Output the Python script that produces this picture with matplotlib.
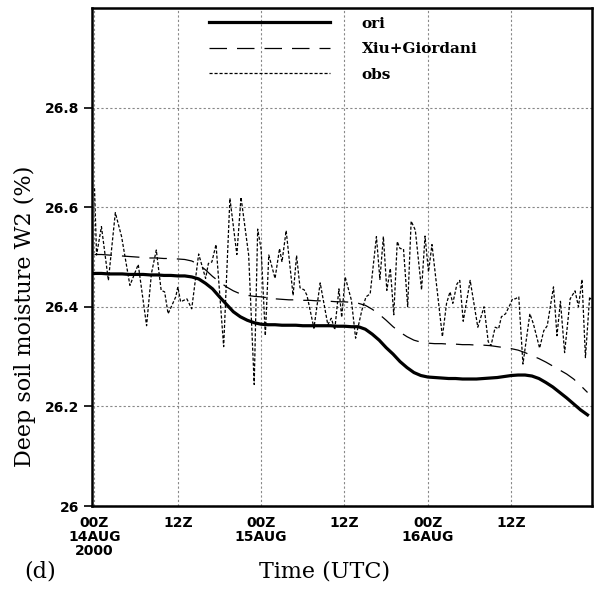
import matplotlib
matplotlib.use("Agg")
import matplotlib.pyplot as plt
import numpy as np

# hourly model output, 00Z 14AUG 2000 onwards
hours = np.arange(72)
ori = [26.467, 26.467, 26.466, 26.466, 26.466, 26.465, 26.465, 26.465, 26.464, 26.464,
       26.463, 26.463, 26.462, 26.462, 26.460, 26.456, 26.447, 26.436, 26.420, 26.405,
       26.390, 26.380, 26.373, 26.368, 26.365, 26.364, 26.364, 26.363, 26.363, 26.363,
       26.362, 26.362, 26.362, 26.362, 26.362, 26.361, 26.361, 26.360, 26.360, 26.355,
       26.345, 26.333, 26.318, 26.305, 26.290, 26.278, 26.268, 26.262, 26.259, 26.258,
       26.257, 26.256, 26.256, 26.255, 26.255, 26.255, 26.256, 26.257, 26.258, 26.260,
       26.262, 26.263, 26.263, 26.261, 26.256, 26.248, 26.239, 26.228, 26.217, 26.205,
       26.193, 26.183]
xiu = [26.505, 26.505, 26.504, 26.503, 26.502, 26.501, 26.500, 26.499, 26.498, 26.498,
       26.497, 26.497, 26.496, 26.495, 26.492, 26.485, 26.474, 26.461, 26.450, 26.440,
       26.432, 26.426, 26.423, 26.421, 26.420, 26.418, 26.416, 26.415, 26.414, 26.414,
       26.413, 26.413, 26.412, 26.412, 26.411, 26.410, 26.410, 26.409, 26.407, 26.403,
       26.395, 26.385, 26.373, 26.360, 26.349, 26.340, 26.333, 26.329, 26.327, 26.326,
       26.326, 26.325, 26.325, 26.324, 26.324, 26.323, 26.323, 26.322, 26.320, 26.318,
       26.316, 26.313, 26.308, 26.302, 26.296, 26.289, 26.281, 26.273, 26.265, 26.255,
       26.242, 26.228]

# observations (irregular sampling)
obs_t = [0.0, 0.3, 1.0, 2.0, 3.0, 3.9, 5.1, 6.3, 7.5, 8.2, 8.9, 9.6, 10.1, 10.6, 11.7,
         12.0, 12.4, 13.3, 14.0, 15.0, 16.0, 16.4, 16.9, 17.5, 18.6, 19.5, 20.5, 21.1,
         22.2, 23.0, 23.5, 24.0, 24.6, 25.1, 26.0, 26.65, 27.0, 27.6, 28.6, 29.1, 29.6,
         30.2, 30.6, 31.6, 32.5, 33.6, 34.1, 34.6, 35.2, 35.6, 36.1, 37.0, 37.6, 38.5,
         39.1, 39.7, 40.6, 41.1, 41.6, 42.1, 42.6, 43.1, 43.6, 44.0, 44.5, 45.1, 45.6,
         46.2, 47.1, 47.6, 48.1, 48.6, 50.1, 50.7, 51.2, 51.6, 52.2, 52.6, 53.1, 54.1,
         55.2, 56.1, 56.7, 57.1, 57.7, 58.2, 58.6, 59.2, 59.9, 60.2, 60.6, 61.1, 61.7,
         62.7, 63.2, 64.1, 64.7, 65.2, 66.1, 66.6, 67.1, 67.7, 68.5, 69.2, 69.7, 70.2,
         70.7, 71.3, 71.5]
obs = [26.638, 26.504, 26.561, 26.453, 26.589, 26.541, 26.443, 26.485, 26.362, 26.467,
       26.514, 26.433, 26.430, 26.386, 26.420, 26.440, 26.410, 26.416, 26.396, 26.506,
       26.457, 26.487, 26.490, 26.525, 26.320, 26.618, 26.505, 26.620, 26.504, 26.244,
       26.556, 26.515, 26.342, 26.504, 26.457, 26.517, 26.490, 26.553, 26.423, 26.503,
       26.438, 26.434, 26.423, 26.357, 26.448, 26.364, 26.377, 26.354, 26.436, 26.379,
       26.460, 26.413, 26.337, 26.393, 26.420, 26.426, 26.541, 26.455, 26.541, 26.433,
       26.477, 26.384, 26.531, 26.517, 26.516, 26.400, 26.572, 26.554, 26.434, 26.542,
       26.470, 26.525, 26.340, 26.407, 26.430, 26.407, 26.446, 26.453, 26.371, 26.453,
       26.359, 26.400, 26.330, 26.322, 26.359, 26.356, 26.380, 26.386, 26.406, 26.416,
       26.416, 26.420, 26.285, 26.386, 26.366, 26.317, 26.352, 26.362, 26.440, 26.342,
       26.411, 26.308, 26.416, 26.432, 26.400, 26.455, 26.298, 26.420, 26.415]

xticks = [0, 12, 24, 36, 48, 60]
xlabels = ["00Z\n14AUG\n2000", "12Z", "00Z\n15AUG", "12Z", "00Z\n16AUG", "12Z"]
yticks = [26.0, 26.2, 26.4, 26.6, 26.8]
ylabels = ["26", "26.2", "26.4", "26.6", "26.8"]

fig = plt.figure(figsize=(6.05, 5.91), dpi=100)
ax = fig.add_axes([0.1516, 0.1438, 0.8264, 0.8427])

ax.plot(hours, ori, color="black", lw=2.3, label="ori")
ax.plot(hours, xiu, color="black", lw=0.9, dashes=(14, 8), label="Xiu+Giordani")
ax.plot(obs_t, obs, color="black", lw=0.9, dashes=(2.5, 1.5), label="obs")

ax.set_xlim(-0.4, 71.6)
ax.set_ylim(26.0, 27.0)
ax.set_xticks(xticks)
ax.set_xticklabels(xlabels, fontsize=10, fontweight="bold", linespacing=1.0)
ax.set_yticks(yticks)
ax.set_yticklabels(ylabels, fontsize=10, fontweight="bold")
ax.tick_params(axis="x", length=0, pad=7)
ax.tick_params(axis="y", length=6, width=1.2, direction="out", pad=3)
ax.grid(True, color="#888888", lw=0.8, dashes=(2, 2))
for s in ax.spines.values():
    s.set_linewidth(1.8)

ax.set_ylabel("Deep soil moisture W2 (%)", family="DejaVu Serif", fontsize=16)
ax.yaxis.set_label_coords(-0.112, 0.38)
fig.text(0.537, 0.022, "Time (UTC)", family="DejaVu Serif", fontsize=16, ha="center")
fig.text(0.04, 0.022, "(d)", family="DejaVu Serif", fontsize=16, ha="left")

leg = ax.legend(loc="upper left", bbox_to_anchor=(0.219, 0.998), frameon=False,
                handlelength=7.9, handletextpad=2.1, labelspacing=0.75, borderpad=0,
                prop={"family": "DejaVu Serif", "weight": "bold", "size": 11})

fig.savefig("out.png", dpi=100)
